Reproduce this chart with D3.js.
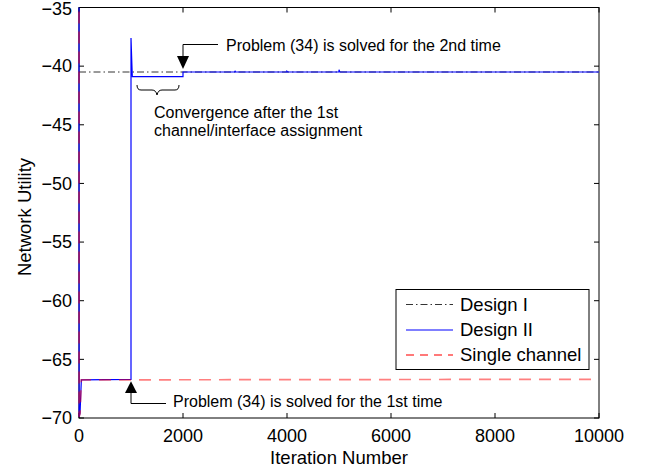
<!DOCTYPE html>
<html>
<head>
<meta charset="utf-8">
<script src="https://cdn.jsdelivr.net/npm/d3@7"></script>
<style>
  body { margin: 0; background: #fff; }
  svg { font-family: "Liberation Sans", Arial, sans-serif; }
</style>
</head>
<body>
<div id="chart"></div>
<script>
// dimensions
const width = 645;
const height = 470;

// data
const xTicks = [0, 2000, 4000, 6000, 8000, 10000];
const yTicks = [-70, -65, -60, -55, -50, -45, -40, -35];

const designOneIter = [0, 10000];
const designOneUtil = [-40.5, -40.5];

const designTwoIter = [0, 2, 20, 45, 1000, 1000, 1025, 2000, 2000, 3000, 3000, 3010, 4000, 4000, 4010, 5000, 5000, 5015, 10000];
const designTwoUtil = [-20, -69.9, -69.6, -66.75, -66.7, -37.6, -40.9, -40.9, -40.5, -40.5, -40.4, -40.5, -40.5, -40.45, -40.5, -40.5, -40.3, -40.5, -40.5];

const singleIter = [0, 2, 20, 45, 10000];
const singleUtil = [-20, -69.9, -69.6, -66.75, -66.7];

const seriesNames = ["Design I", "Design II", "Single channel"];

// scales
const x = d3.scaleLinear().domain([0, 10000]).range([79, 599]);
const y = d3.scaleLinear().domain([-70, -35]).range([418, 7.5]);

const svg = d3.select("#chart").append("svg")
    .attr("width", width)
    .attr("height", height);

svg.append("defs").append("clipPath")
    .attr("id", "plotclip")
    .append("rect")
    .attr("x", x(0) - 2).attr("y", y(-35))
    .attr("width", x(10000) - x(0) + 2)
    .attr("height", y(-70) - y(-35));

const line = d3.line().x(d => x(d[0])).y(d => y(d[1]));
const zip = (a, b) => a.map((v, i) => [v, b[i]]);

// axes: box with inward ticks (matlab style)
const tickLen = 5;
const axisG = svg.append("g").attr("stroke", "#000").attr("stroke-width", 1);

axisG.append("rect")
    .attr("x", x(0)).attr("y", y(-35))
    .attr("width", x(10000) - x(0))
    .attr("height", y(-70) - y(-35))
    .attr("fill", "none");

xTicks.forEach(t => {
    axisG.append("line").attr("x1", x(t)).attr("x2", x(t)).attr("y1", y(-70)).attr("y2", y(-70) - tickLen);
    axisG.append("line").attr("x1", x(t)).attr("x2", x(t)).attr("y1", y(-35)).attr("y2", y(-35) + tickLen);
});
yTicks.forEach(t => {
    axisG.append("line").attr("x1", x(0)).attr("x2", x(0) + tickLen).attr("y1", y(t)).attr("y2", y(t));
    axisG.append("line").attr("x1", x(10000)).attr("x2", x(10000) - tickLen).attr("y1", y(t)).attr("y2", y(t));
});

const plot = svg.append("g").attr("clip-path", "url(#plotclip)");

// Design I (black dash-dot)
plot.append("path")
    .attr("d", line(zip(designOneIter, designOneUtil)))
    .attr("fill", "none")
    .attr("stroke", "#000")
    .attr("stroke-width", 0.8)
    .attr("stroke-dasharray", "7,3,1.5,3");

// Design II (blue solid)
plot.append("path")
    .attr("d", line(zip(designTwoIter, designTwoUtil)))
    .attr("fill", "none")
    .attr("stroke", "#0000ff")
    .attr("stroke-width", 1.2);

// Single channel (red dashed, light)
plot.append("path")
    .attr("d", line(zip(singleIter, singleUtil)))
    .attr("fill", "none")
    .attr("stroke", "#ff0000")
    .attr("stroke-opacity", 0.5)
    .attr("stroke-width", 1.7)
    .attr("stroke-dasharray", "12,8");

const fmt = v => (v < 0 ? "\u2212" + Math.abs(v) : String(v));

svg.append("g").selectAll("text")
    .data(xTicks)
    .join("text")
    .attr("x", d => x(d))
    .attr("y", 442)
    .attr("text-anchor", "middle")
    .attr("font-size", "18px")
    .text(d => fmt(d));

svg.append("g").selectAll("text")
    .data(yTicks)
    .join("text")
    .attr("x", 72)
    .attr("y", d => Math.max(y(d), 8.5))
    .attr("dy", "0.35em")
    .attr("text-anchor", "end")
    .attr("font-size", "18px")
    .text(d => fmt(d));

svg.append("text")
    .attr("x", 339)
    .attr("y", 464)
    .attr("text-anchor", "middle")
    .attr("font-size", "18.5px")
    .text("Iteration Number");

svg.append("text")
    .attr("transform", "translate(31,217) rotate(-90)")
    .attr("text-anchor", "middle")
    .attr("font-size", "18.5px")
    .text("Network Utility");

// annotations
const ann = svg.append("g").attr("font-size", "16px");

// 2nd time arrow (points down at x=2000)
ann.append("path")
    .attr("d", `M218,44.5 H${x(2000)} V58`)
    .attr("fill", "none").attr("stroke", "#000").attr("stroke-width", 1);
ann.append("path")
    .attr("d", `M${x(2000) - 6},56 L${x(2000) + 6},56 L${x(2000)},${y(-40.5) - 3} Z`)
    .attr("fill", "#000");
ann.append("text").attr("x", 226).attr("y", 50.5).text("Problem (34) is solved for the 2nd time");

// brace
ann.append("path")
    .attr("d", "M137,85 Q137,90 141,90 H152 Q156,90 157,95 Q158,90 162,90 H175 Q179,90 179,85")
    .attr("fill", "none").attr("stroke", "#000").attr("stroke-width", 1);
ann.append("text").attr("x", 154).attr("y", 118).text("Convergence after the 1st");
ann.append("text").attr("x", 154).attr("y", 136).text("channel/interface assignment");

// 1st time arrow (points up at x=1000)
ann.append("path")
    .attr("d", `M166,403.5 H${x(1000)} V390`)
    .attr("fill", "none").attr("stroke", "#000").attr("stroke-width", 1);
ann.append("path")
    .attr("d", `M${x(1000) - 6},393 L${x(1000) + 6},393 L${x(1000)},${y(-66.7) + 2} Z`)
    .attr("fill", "#000");
ann.append("text").attr("x", 173).attr("y", 406.5).text("Problem (34) is solved for the 1st time");

// legend
const legend = svg.append("g");
legend.append("rect")
    .attr("x", 396).attr("y", 289.5)
    .attr("width", 193).attr("height", 80)
    .attr("fill", "#fff").attr("stroke", "#000").attr("stroke-width", 1);

const legendStyles = [
    { stroke: "#000", dash: "7,3,1.5,3", opacity: 1, w: 0.8 },
    { stroke: "#0000ff", dash: null, opacity: 1, w: 1.2 },
    { stroke: "#ff0000", dash: "8,6", opacity: 0.7, w: 1.3 }
];
const legendY = [304.5, 330, 355];

seriesNames.forEach((name, i) => {
    legend.append("line")
        .attr("x1", 406).attr("x2", 453)
        .attr("y1", legendY[i]).attr("y2", legendY[i])
        .attr("stroke", legendStyles[i].stroke)
        .attr("stroke-width", legendStyles[i].w)
        .attr("stroke-opacity", legendStyles[i].opacity)
        .attr("stroke-dasharray", legendStyles[i].dash);
    legend.append("text")
        .attr("x", 460).attr("y", legendY[i])
        .attr("dy", "0.35em")
        .attr("font-size", "18.5px")
        .text(name);
});
</script>
</body>
</html>
